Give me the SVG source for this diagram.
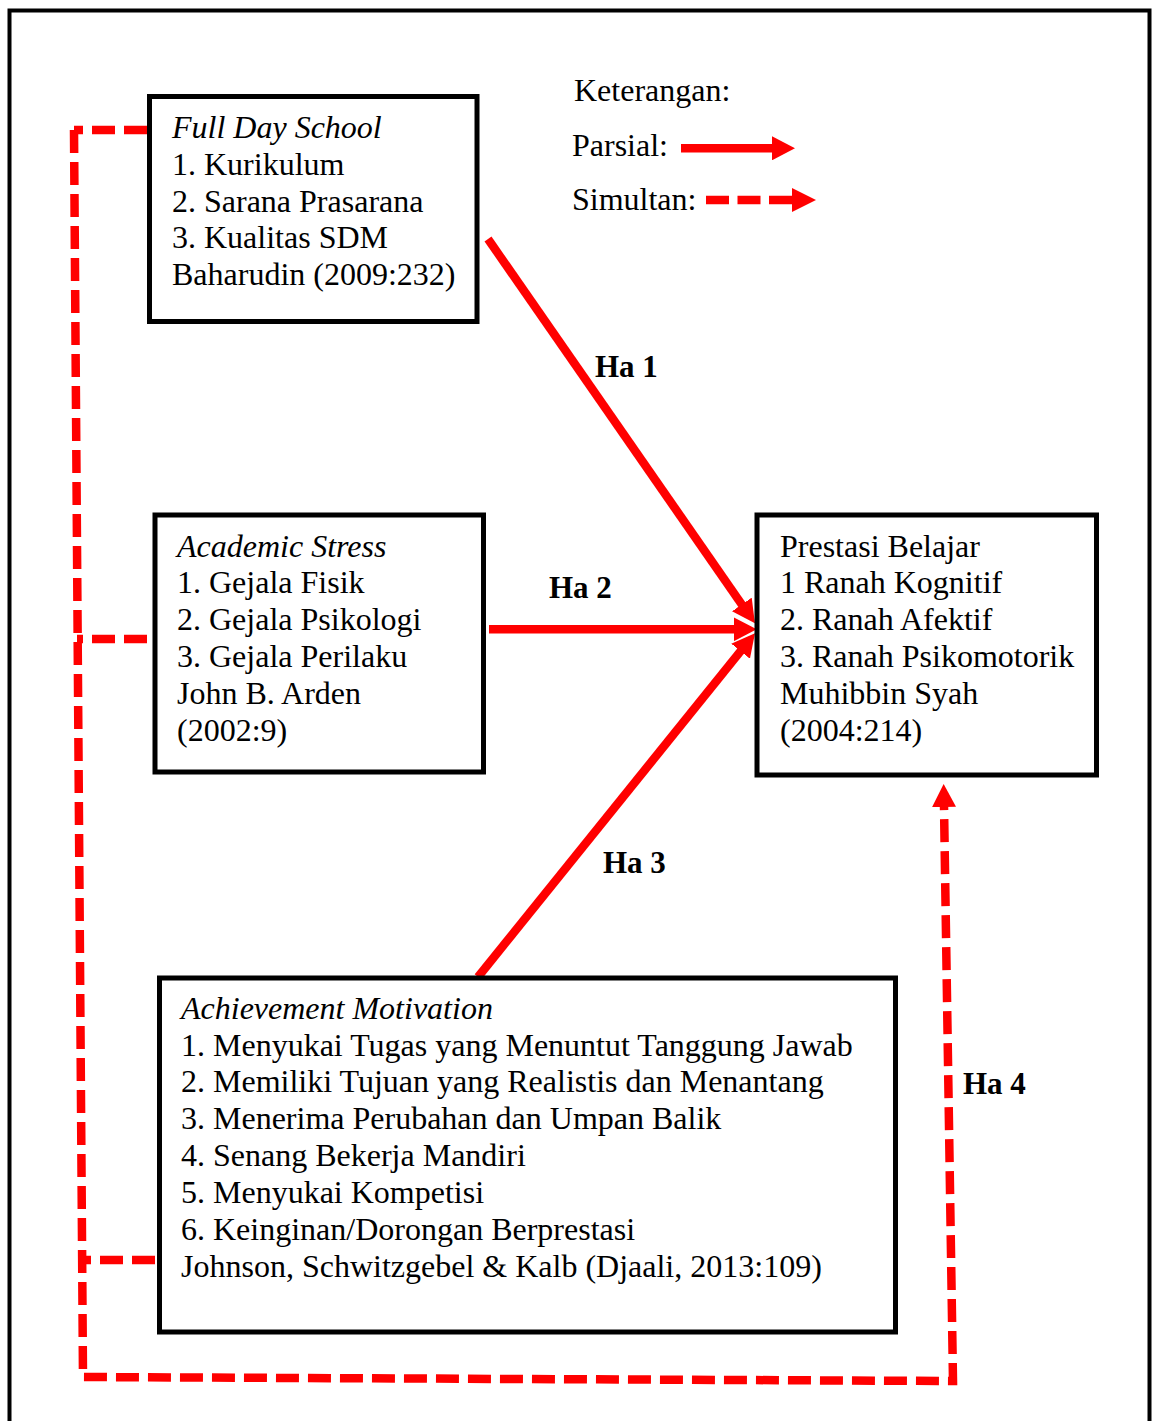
<svg xmlns="http://www.w3.org/2000/svg" width="1152" height="1421" viewBox="0 0 1152 1421">
<defs>
<style>
text{font-family:"Liberation Serif","Times New Roman",serif;font-size:32px;fill:#000}
.it{font-style:italic}
.lab{font-weight:bold;font-size:31px}
.box{fill:#fff;stroke:#000;stroke-width:5}
.solid{fill:none;stroke:#ff0000;stroke-width:8.5}
.dash{fill:none;stroke:#ff0000;stroke-width:8.5;stroke-dasharray:23 9}
</style>
<marker id="ah" viewBox="0 0 23 24" refX="1" refY="12" markerWidth="23" markerHeight="24" markerUnits="userSpaceOnUse" orient="auto">
<path d="M0,0 L23,12 L0,24 z" fill="#ff0000"/>
</marker>
</defs>
<rect width="1152" height="1421" fill="#fff"/>
<rect x="9.5" y="10.5" width="1140" height="1440" fill="none" stroke="#000" stroke-width="4"/>

<g id="connectors">
<path class="dash" d="M147,130 L74,130"/>
<path class="dash" d="M147,639 L77,639"/>
<path class="dash" d="M155,1260 L82,1260"/>
<path class="dash" d="M74,130 L83,1377 L953,1381 L944,806" marker-end="url(#ah)"/>
<line class="solid" x1="488" y1="239" x2="742.4" y2="605.3" marker-end="url(#ah)"/>
<line class="solid" x1="489" y1="629.3" x2="734.7" y2="629.3" marker-end="url(#ah)"/>
<line class="solid" x1="478" y1="977" x2="741.2" y2="650.4" marker-end="url(#ah)"/>
<text class="lab" x="595" y="377">Ha 1</text>
<text class="lab" x="549" y="598">Ha 2</text>
<text class="lab" x="603" y="873">Ha 3</text>
<text class="lab" x="963" y="1094">Ha 4</text>
</g>

<g id="legend">
<text x="574" y="101">Keterangan:</text>
<text x="572" y="156">Parsial:</text>
<text x="572" y="210">Simultan:</text>
<line class="solid" x1="681" y1="148.3" x2="773" y2="148.3" marker-end="url(#ah)"/>
<line class="dash" x1="706" y1="200" x2="793" y2="200" style="stroke-dasharray:23 8.5"/>
<path d="M792,188 L816,200 L792,212 z" fill="#ff0000"/>
</g>

<g id="full-day-school">
<rect class="box" x="149.5" y="96.5" width="327.5" height="225"/>
<text class="it" x="172" y="138">Full Day School</text>
<text x="172" y="175">1. Kurikulum</text>
<text x="172" y="212">2. Sarana Prasarana</text>
<text x="172" y="248">3. Kualitas SDM</text>
<text x="172" y="285">Baharudin (2009:232)</text>
</g>

<g id="academic-stress">
<rect class="box" x="155" y="515" width="328.5" height="257"/>
<text class="it" x="177" y="557">Academic Stress</text>
<text x="177" y="593">1. Gejala Fisik</text>
<text x="177" y="630">2. Gejala Psikologi</text>
<text x="177" y="667">3. Gejala Perilaku</text>
<text x="177" y="704">John B. Arden</text>
<text x="177" y="741">(2002:9)</text>
</g>

<g id="prestasi-belajar">
<rect class="box" x="757" y="515" width="339.5" height="260"/>
<text x="780" y="557">Prestasi Belajar</text>
<text x="780" y="593">1 Ranah Kognitif</text>
<text x="780" y="630">2. Ranah Afektif</text>
<text x="780" y="667">3. Ranah Psikomotorik</text>
<text x="780" y="704">Muhibbin Syah</text>
<text x="780" y="741">(2004:214)</text>
</g>

<g id="achievement-motivation">
<rect class="box" x="159.5" y="978" width="736" height="354"/>
<text class="it" x="181" y="1018.5">Achievement Motivation</text>
<text x="181" y="1055.5">1. Menyukai Tugas yang Menuntut Tanggung Jawab</text>
<text x="181" y="1092.3">2. Memiliki Tujuan yang Realistis dan Menantang</text>
<text x="181" y="1129.2">3. Menerima Perubahan dan Umpan Balik</text>
<text x="181" y="1166">4. Senang Bekerja Mandiri</text>
<text x="181" y="1203">5. Menyukai Kompetisi</text>
<text x="181" y="1240">6. Keinginan/Dorongan Berprestasi</text>
<text x="181" y="1277">Johnson, Schwitzgebel &amp; Kalb (Djaali, 2013:109)</text>
</g>
</svg>
